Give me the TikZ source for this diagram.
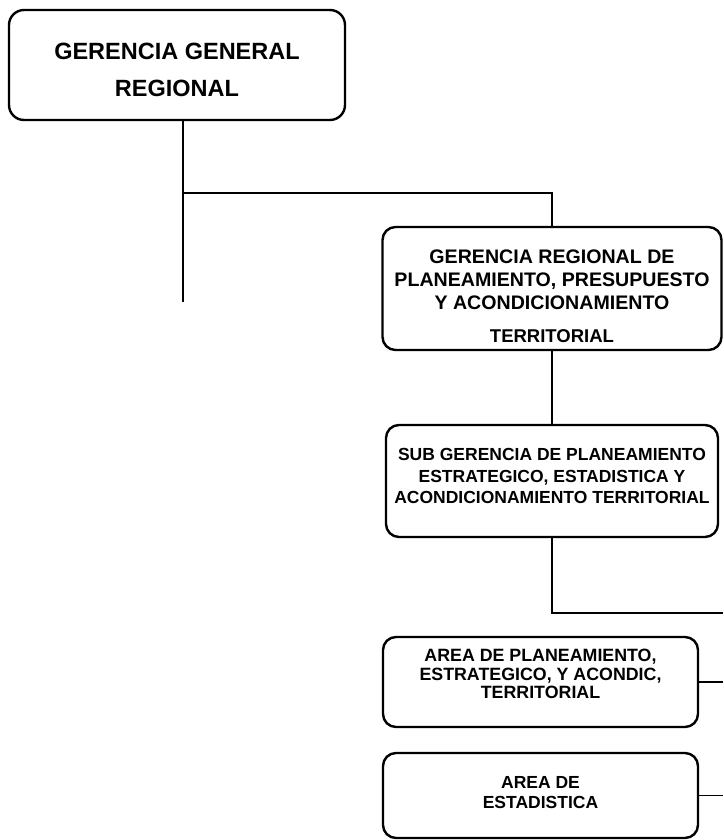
\documentclass[tikz,border=0pt]{standalone}
\usepackage{fontspec}
\setmainfont{Liberation Sans}
\begin{document}
\begin{tikzpicture}[
        x=1pt, y=-1pt,
        box/.style={draw, rectangle, rounded corners=13pt, line width=2.4pt, inner sep=0pt, align=center, font=\bfseries\fontsize{17.5}{21.7}\selectfont},
        line/.style={line width=1.8pt}
    ]
        \useasboundingbox (0,0) rectangle (723,840);

        % Gerencia general
        \node[box, rounded corners=15pt, minimum width=336, minimum height=110, font=\bfseries\fontsize{23.5}{37}\selectfont] (ggr) at (177,65) {\rule{0pt}{26pt}GERENCIA GENERAL\\REGIONAL};

        % Gerencia regional y sub gerencia
        \node[box, minimum width=339, minimum height=123, font=\bfseries\fontsize{19.6}{23}\selectfont] (gpp) at (552,288.5) {\rule{0pt}{30pt}GERENCIA REGIONAL DE\\PLANEAMIENTO, PRESUPUESTO\\Y ACONDICIONAMIENTO\\[10pt]{\fontsize{18.5}{20}\selectfont TERRITORIAL}};
        \node[box, minimum width=332, minimum height=112] (sgp) at (552,481) {SUB GERENCIA DE PLANEAMIENTO\\ESTRATEGICO, ESTADISTICA Y\\ACONDICIONAMIENTO TERRITORIAL\rule[-10pt]{0pt}{10pt}};

        % Areas
        \node[box, minimum width=315, minimum height=90, font=\bfseries\fontsize{17.8}{18.5}\selectfont] (apl) at (540.5,682) {AREA DE PLANEAMIENTO,\\ESTRATEGICO, Y ACONDIC,\\TERRITORIAL\rule[-16pt]{0pt}{16pt}};
        \node[box, minimum width=315, minimum height=85, font=\bfseries\fontsize{17.5}{20}\selectfont] (aes) at (540.5,795.5) {AREA DE\\ESTADISTICA\rule[-6pt]{0pt}{6pt}};

        % Puntos libres
        \coordinate (trunk) at (183,302);
        \coordinate (branch) at (183,193);
        \coordinate (edge) at (723,613);

        % Conectores
        \draw[line] (ggr.south -| trunk) -- (trunk);
        \draw[line] (branch) -| (gpp.north);
        \draw[line] (gpp.south) -- (sgp.north);
        \draw[line] (sgp.south) |- (edge);
        \draw[line] (apl.east) -- (apl.east -| edge);
        \draw[line] (aes.east) -- (aes.east -| edge);

    \end{tikzpicture}
\end{document}
